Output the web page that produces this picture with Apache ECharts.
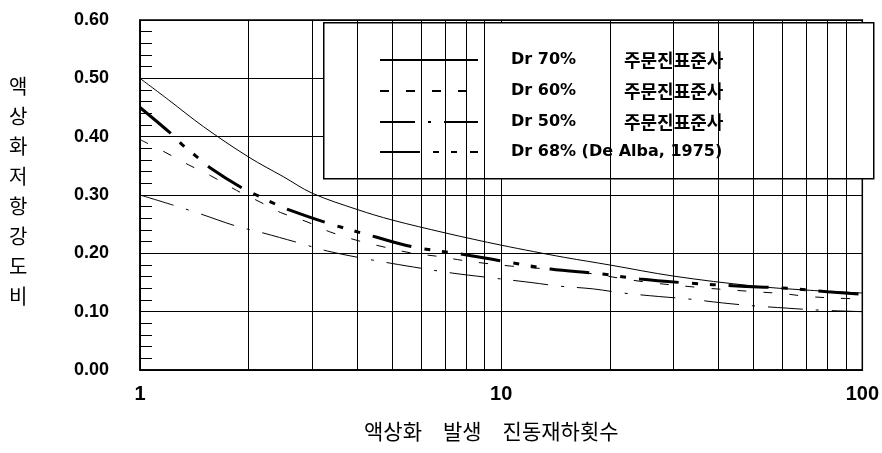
<!DOCTYPE html>
<html><head><meta charset="utf-8">
<script src="https://cdn.jsdelivr.net/npm/echarts@6/dist/echarts.min.js"></script>
<style>html,body{margin:0;padding:0;background:#fff}#c{width:882px;height:453px}</style>
</head><body><div id="c"></div><script>
// ---- data ----
const legendCodes = ['Dr 70%', 'Dr 60%', 'Dr 50%', 'Dr 68% (De Alba, 1975)'];
const legendSources = ['주문진표준사', '주문진표준사', '주문진표준사', ''];

const nDr70 = [1, 1.2, 1.5, 2, 2.5, 3, 4, 5, 7, 8.4, 10, 12.3, 15, 20, 30, 50, 70, 100];
const vDr70 = [0.50, 0.463, 0.417, 0.365, 0.331, 0.303, 0.275, 0.257, 0.235, 0.224, 0.214, 0.203, 0.193, 0.18, 0.161, 0.144, 0.137, 0.132];

const nDr60 = [1, 1.16, 1.36, 1.57, 1.85, 2.15, 2.45, 2.9, 3.35, 4, 4.65, 5.7, 6.65, 7.8, 9, 10.7, 14.8, 17.4, 25, 36, 43.6, 51, 60, 71, 86, 100];
const vDr60 = [0.395, 0.375, 0.352, 0.333, 0.308, 0.288, 0.27, 0.254, 0.237, 0.222, 0.212, 0.2, 0.195, 0.188, 0.183, 0.178, 0.171, 0.166, 0.151, 0.141, 0.137, 0.134, 0.131, 0.126, 0.123, 0.122];

const nDr50 = [1, 1.23, 1.48, 1.84, 2.19, 2.75, 3.3, 4.1, 4.95, 6.2, 7.35, 9.1, 12.1, 14.4, 18, 21.7, 27.3, 32.7, 41, 50, 62, 74, 100];
const vDr50 = [0.30, 0.283, 0.267, 0.247, 0.235, 0.218, 0.204, 0.192, 0.183, 0.173, 0.166, 0.159, 0.15, 0.144, 0.139, 0.132, 0.126, 0.122, 0.115, 0.11, 0.106, 0.103, 0.10];

const nAlba = [1, 1.23, 1.31, 1.44, 1.57, 1.94, 2.1, 2.36, 2.6, 3.3, 4.5, 5.7, 7.7, 10, 13.7, 18.8, 24.2, 33, 45, 62, 80, 100];
const vAlba = [0.45, 0.403, 0.386, 0.365, 0.346, 0.31, 0.30, 0.285, 0.274, 0.252, 0.228, 0.211, 0.199, 0.187, 0.173, 0.165, 0.156, 0.149, 0.144, 0.14, 0.134, 0.13];

const xTicks = [1, 10, 100];
const xMinorGrid = [2, 3, 4, 5, 6, 7, 8, 9, 20, 30, 40, 50, 60, 70, 80, 90];
const yTicks = [0, 0.1, 0.2, 0.3, 0.4, 0.5, 0.6];
const yTitle = '액상화저항강도비';
const xTitle = '액상화\u3000발생\u3000진동재하횟수';

// ---- build ----
const names = legendCodes.map((c, i) => legendSources[i] ? c + ' ' + legendSources[i] : c);
const pair = (xs, ys) => xs.map((x, i) => [x, ys[i]]);
const dashes = [
  {type: 'solid', width: 1},
  {type: [9, 17], width: 1},
  {type: [35, 13, 3, 13], width: 1},
  {type: [40, 13, 6, 12, 6, 13], width: 3}
];
const dataSets = [pair(nDr70, vDr70), pair(nDr60, vDr60), pair(nDr50, vDr50), pair(nAlba, vAlba)];

const series = dataSets.map((d, i) => ({
  name: names[i], type: 'line', data: d, symbol: 'none', smooth: 0.35,
  lineStyle: {color: '#000', width: dashes[i].width, type: dashes[i].type},
  itemStyle: {color: '#000'}, z: 3, silent: true
}));
series.push({
  name: 'grid', type: 'line', data: [], silent: true, z: 1,
  markLine: {
    silent: true, symbol: ['none', 'none'], label: {show: false},
    lineStyle: {color: '#000', type: 'solid', width: 1},
    emphasis: {disabled: true},
    data: xMinorGrid.map(v => ({xAxis: v}))
  }
});

const chart = echarts.init(document.getElementById('c'), null, {renderer: 'canvas'});
chart.setOption({
  animation: false,
  backgroundColor: '#fff',
  grid: {left: 140, right: 8, top: 20, bottom: 83, show: true, borderColor: '#000', borderWidth: 1.5, backgroundColor: 'transparent'},
  xAxis: {
    type: 'log', logBase: 10, min: xTicks[0], max: xTicks[xTicks.length - 1],
    axisLine: {lineStyle: {color: '#000', width: 1.5}},
    axisTick: {show: false},
    splitLine: {show: true, lineStyle: {color: '#000', width: 1}},
    axisLabel: {color: '#000', fontFamily: 'Liberation Sans Narrow, Liberation Sans, Arial', fontWeight: 'bold', fontSize: 20, margin: 14,
      formatter: v => String(v)}
  },
  yAxis: {
    type: 'value', min: yTicks[0], max: yTicks[yTicks.length - 1], interval: 0.1,
    axisLine: {show: true, lineStyle: {color: '#000', width: 1.5}},
    axisTick: {show: true, inside: true, length: 12, lineStyle: {color: '#000'}},
    minorTick: {show: true, splitNumber: 5, length: 12, lineStyle: {color: '#000', width: 1}},
    splitLine: {show: true, lineStyle: {color: '#000', width: 1}},
    axisLabel: {color: '#000', fontFamily: 'Liberation Sans, Arial', fontWeight: 'bold', fontSize: 18, margin: 31,
      formatter: v => v.toFixed(2)}
  },
  legend: {
    data: names, orient: 'vertical', left: 379, top: 51, padding: 0,
    icon: 'inherit', itemStyle: {opacity: 0},
    itemWidth: 98, itemHeight: 14, itemGap: 13, z: 10, selectedMode: false,
    formatter: name => {
      const i = names.indexOf(name);
      return legendSources[i] ? '{a|' + legendCodes[i] + '}{b|' + legendSources[i] + '}' : '{c|' + legendCodes[i] + '}';
    },
    textStyle: {
      color: '#000', padding: [0, 0, 0, 28],
      rich: {
        a: {fontFamily: 'DejaVu Sans', fontWeight: 'bold', fontSize: 16, width: 113, color: '#000'},
        b: {fontFamily: 'Noto Sans CJK KR', fontWeight: 'bold', fontSize: 18, color: '#000'},
        c: {fontFamily: 'DejaVu Sans', fontWeight: 'bold', fontSize: 16, color: '#000'}
      }
    }
  },
  graphic: [
    {type: 'rect', left: 323, top: 22, z: 5, shape: {width: 550, height: 156},
      style: {fill: '#fff', stroke: '#000', lineWidth: 1.5}},
    {type: 'text', left: 9, top: 71, z: 10,
      style: {text: yTitle.split('').join('\n'), font: '20px "Noto Sans CJK KR"', lineHeight: 30, fill: '#000', align: 'left'}},
    {type: 'text', left: 364, top: 421, z: 10,
      style: {text: xTitle, font: '21px "Noto Sans CJK KR"', fill: '#000'}}
  ],
  series: series
});
</script></body></html>
